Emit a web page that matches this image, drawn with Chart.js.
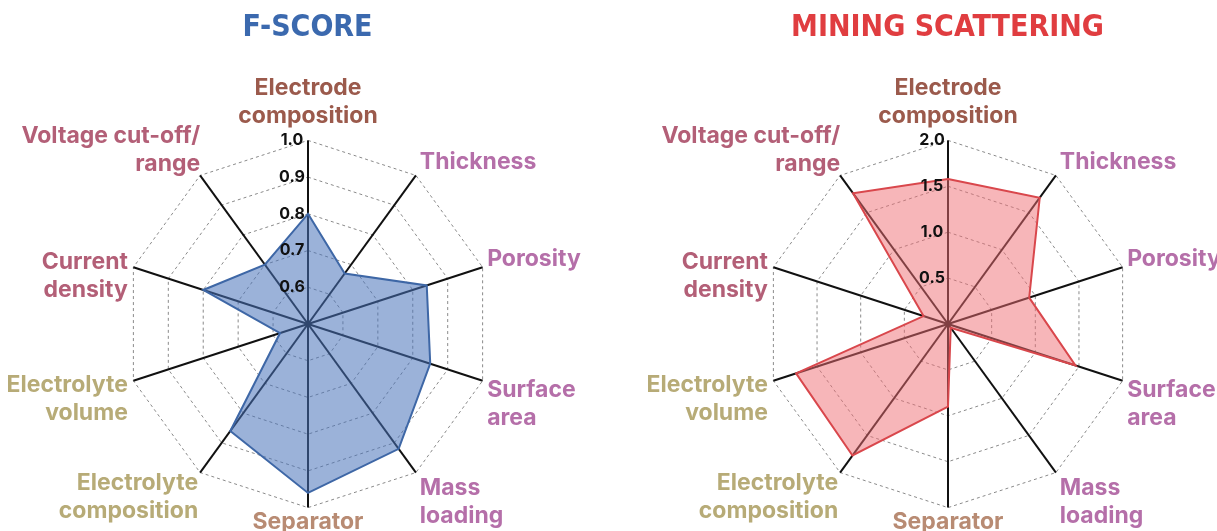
<!DOCTYPE html>
<html>
<head>
<meta charset="utf-8">
<script src="https://cdn.jsdelivr.net/npm/chart.js@4.4.1/dist/chart.umd.min.js"></script>
<style>
  html, body { margin: 0; padding: 0; background: #fff; overflow: hidden; width: 1217px; height: 531px; }
  .wrap { position: absolute; top: -23px; }
  #w1 { left: -12px; }
  #w2 { left: 628px; }
</style>
</head>
<body>
<div class="wrap" id="w1"><canvas id="fscore" width="612" height="594"></canvas></div>
<div class="wrap" id="w2"><canvas id="mining" width="612" height="594"></canvas></div>
<script>
const LABELS = [
    ['Electrode', 'composition'],
    'Thickness',
    'Porosity',
    ['Surface', 'area'],
    ['Mass', 'loading'],
    'Separator',
    ['Electrolyte', 'composition'],
    ['Electrolyte', 'volume'],
    ['Current', 'density'],
    ['Voltage cut-off/', 'range'],
];

const LABEL_COLORS = [
    '#9b5a4c', '#b56fa9', '#b56fa9', '#b56fa9', '#b56fa9',
    '#b88b73', '#b7ab77', '#b7ab77', '#b35f77', '#b35f77',
];

const F_SCORE = [0.80, 0.67, 0.84, 0.85, 0.92, 0.96, 0.86, 0.58, 0.80, 0.70];
const MINING_SCATTERING = [1.58, 1.70, 0.93, 1.46, 0.05, 0.90, 1.77, 1.74, 0.28, 1.76];

const F_TICKS = { min: 0.5, max: 1.0, step: 0.1 };
const M_TICKS = { min: 0, max: 2.0, step: 0.5 };

// labels in the original sit closer to the ends of their spokes than Chart.js puts them
const LABEL_SHIFT_Y = [0, 9, 9, -8, -7, -10, -12, -13, 40, 11];
const LABEL_SHIFT_X = [0, -2, -5, -5, -2, 0, 4, 4, 4, 6];
const nudgeLabels = {
    id: 'nudgeLabels',
    afterLayout(chart) {
        const items = chart.scales.r._pointLabelItems;
        if (!items) return;
        items.forEach((it, i) => {
            it.x += LABEL_SHIFT_X[i];
            it.left += LABEL_SHIFT_X[i];
            it.right += LABEL_SHIFT_X[i];
            it.y += LABEL_SHIFT_Y[i];
            it.top += LABEL_SHIFT_Y[i];
            it.bottom += LABEL_SHIFT_Y[i];
        });
    }
};

const radar = (id, title, titleColor, data, ticks, fill, line) => new Chart(
    document.getElementById(id),
    {
        type: 'radar',
        data: {
            labels: LABELS,
            datasets: [
                {
                    data: data,
                    fill: true,
                    backgroundColor: fill,
                    borderColor: line,
                    borderWidth: 2,
                    pointRadius: 0,
                },
            ]
        },
        options: {
            responsive: false,
            animation: false,
            layout: { padding: 0 },
            scales: {
                r: {
                    min: ticks.min,
                    max: ticks.max,
                    ticks: {
                        stepSize: ticks.step,
                        showLabelBackdrop: false,
                        color: '#111',
                        z: 1,
                        font: { family: 'Inter', size: 16, weight: 'bold' },
                        callback: v => v.toFixed(1) + '\u2003\u2003',
                    },
                    grid: { color: '#8a8a8a', lineWidth: 1 },
                    border: { dash: [3, 3] },
                    angleLines: { color: '#111', lineWidth: 2 },
                    pointLabels: {
                        color: ctx => LABEL_COLORS[ctx.index],
                        font: { family: 'Inter', size: 23, weight: 'bold', lineHeight: 1.22 },
                        padding: 0,
                    },
                },
            },
            plugins: {
                legend: { display: false },
                tooltip: { enabled: false },
                title: {
                    display: true,
                    // leading space nudges the title over the centre of the web
                    text: '\u2003' + title,
                    color: titleColor,
                    font: { family: "'Liberation Sans Narrow', 'DejaVu Sans Condensed', Roboto, sans-serif", size: 30, weight: '900' },
                    padding: { top: 33, bottom: 4 },
                },
            },
        },
        plugins: [nudgeLabels],
    }
);

radar('fscore', 'F-SCORE', '#3b69ae', F_SCORE, F_TICKS, 'rgba(72, 115, 185, 0.55)', '#3e67a6');
radar('mining', 'MINING SCATTERING', '#e03d40', MINING_SCATTERING, M_TICKS, 'rgba(240, 110, 115, 0.5)', '#d9474c');
</script>
</body>
</html>
